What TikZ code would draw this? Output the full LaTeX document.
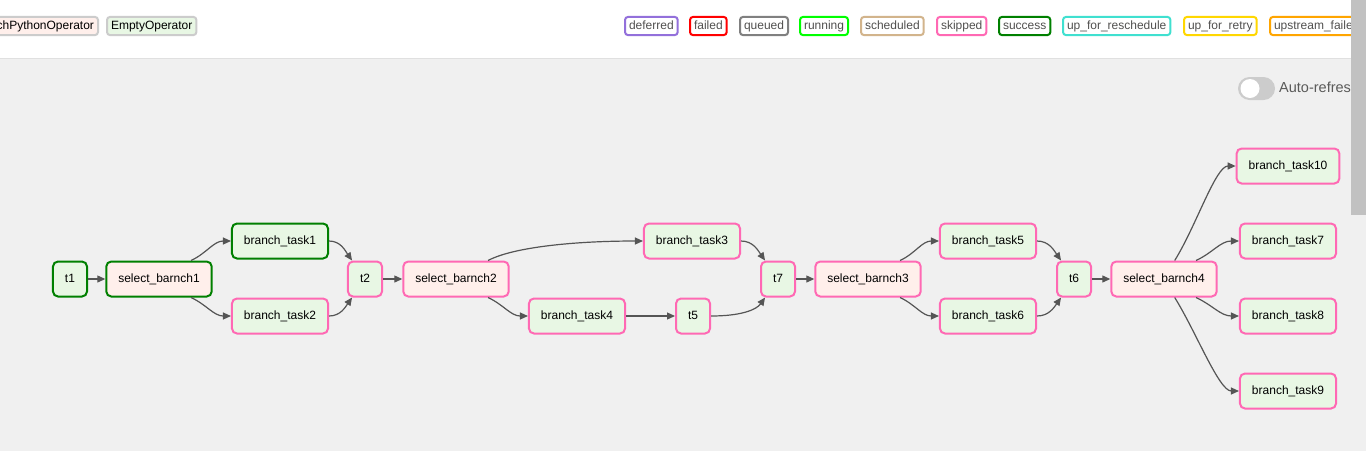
\documentclass[tikz,border=0pt]{standalone}
\usepackage{fontspec}
\setmainfont{Liberation Sans}
\usetikzlibrary{
  positioning,
  arrows.meta
}
\definecolor{canvas}{HTML}{F0F0F0}
\definecolor{emptyop}{HTML}{E8F7E4}
\definecolor{branchop}{HTML}{FFEFEB}
\definecolor{edgegray}{HTML}{555555}
\definecolor{labeltext}{HTML}{51504F}
\definecolor{opborder}{HTML}{CCCCCC}
\definecolor{thumb}{HTML}{C1C1C1}
\colorlet{donecol}{green!50!black}
\definecolor{skipcol}{HTML}{FF69B4}
\tikzset{
  every task/.style={rectangle,rounded corners=5pt,line width=2pt,
    inner xsep=12pt,minimum height=35pt,text height=9pt,text depth=2.5pt,
    font=\fontsize{12}{14}\selectfont,text=black},
  empty task/.style={every task,fill=emptyop},
  branch task/.style={every task,fill=branchop},
  done/.style={draw=donecol},
  skipped/.style={draw=skipcol},
  flow/.style={draw=edgegray,line width=1.2pt,-{Triangle[length=8pt,width=7pt]}},
  state box/.style={rectangle,rounded corners=3pt,line width=2pt,fill=white,
    inner xsep=4pt,minimum height=17pt,text height=9pt,text depth=2.5pt,
    font=\fontsize{12}{14}\selectfont,text=labeltext},
}

\begin{document}
\begin{tikzpicture}[x=1pt,y=-1pt]
\useasboundingbox (0,0) rectangle (1366,451);
\clip (0,0) rectangle (1366,451);
\fill[white] (0,0) rectangle (1366,58);
\fill[canvas] (0,58) rectangle (1366,451);
\draw[opborder!60,line width=0.8pt] (0,58) -- (1366,58);

% operator legend
\node[state box,draw=opborder,fill=emptyop,text=black,anchor=west] (op2) at (106,26) {EmptyOperator};
\node[state box,draw=opborder,fill=branchop,text=black,left=7pt of op2] (op1) {BranchPythonOperator};

% state legend
\foreach \lbl/\col/\x [count=\i] in {
  deferred/{rgb,255:red,147;green,112;blue,219}/624,
  failed/red/689,
  queued/gray/739,
  running/{rgb,255:red,0;green,255;blue,0}/799,
  scheduled/{rgb,255:red,210;green,180;blue,140}/860,
  skipped/skipcol/936,
  success/donecol/998,
  up\_for\_reschedule/{rgb,255:red,64;green,224;blue,208}/1062,
  up\_for\_retry/{rgb,255:red,255;green,215;blue,0}/1183,
  upstream\_failed/{rgb,255:red,255;green,165;blue,0}/1269}
{
  \node[state box,draw=\col,anchor=west] (st\i) at (\x,26) {\lbl};
}

% auto refresh
\fill[opborder,rounded corners=11.5pt] (1238,77) rectangle (1275,100);
\fill[white] (1250,88.5) circle[radius=9.5];
\node[anchor=west,inner sep=0pt,text=labeltext!80!gray,font=\fontsize{14.5}{17}\selectfont] (refresh) at (1279,87) {Auto-refresh};

% tasks
\node[empty task,done] (t1) at (70,279) {t1};
\node[branch task,done] (sb1) at (159,279) {select\_barnch1};
\node[empty task,done] (bt1) at (280,241) {branch\_task1};
\node[empty task,skipped] (bt2) at (280,316) {branch\_task2};
\node[empty task,skipped] (t2) at (365,279) {t2};
\node[branch task,skipped] (sb2) at (456,279) {select\_barnch2};
\node[empty task,skipped] (bt3) at (692,241) {branch\_task3};
\node[empty task,skipped] (bt4) at (577,316) {branch\_task4};
\node[empty task,skipped] (t5) at (693,316) {t5};
\node[empty task,skipped] (t7) at (778,279) {t7};
\node[branch task,skipped] (sb3) at (868,279) {select\_barnch3};
\node[empty task,skipped] (bt5) at (988,241) {branch\_task5};
\node[empty task,skipped] (bt6) at (988,316) {branch\_task6};
\node[empty task,skipped] (t6) at (1074,279) {t6};
\node[branch task,skipped] (sb4) at (1164,279) {select\_barnch4};
\node[empty task,skipped] (bt10) at (1288,166) {branch\_task10};
\node[empty task,skipped] (bt7) at (1288,241) {branch\_task7};
\node[empty task,skipped] (bt8) at (1288,316) {branch\_task8};
\node[empty task,skipped] (bt9) at (1288,391) {branch\_task9};

% edges
\draw[flow] (t1) -- (sb1);
\draw[flow] (sb1.30) to[out=25,in=180] (bt1);
\draw[flow] (sb1.-30) to[out=-25,in=180] (bt2);
\draw[flow] (bt1) to[out=0,in=125] (t2);
\draw[flow] (bt2) to[out=0,in=-125] (t2);
\draw[flow] (t2) -- (sb2);
\draw[flow] (sb2.30) to[out=28,in=180,out distance=28pt,in distance=70pt] (bt3);
\draw[flow] (sb2.-30) to[out=-25,in=180] (bt4);
\draw[flow] (bt4) -- (t5);
\draw[flow] (bt3) to[out=0,in=125] (t7);
\draw[flow] (t5) to[out=0,in=-125,out distance=30pt,in distance=15pt] (t7);
\draw[flow] (t7) -- (sb3);
\draw[flow] (sb3.30) to[out=25,in=180] (bt5);
\draw[flow] (sb3.-30) to[out=-25,in=180] (bt6);
\draw[flow] (bt5) to[out=0,in=125] (t6);
\draw[flow] (bt6) to[out=0,in=-125] (t6);
\draw[flow] (t6) -- (sb4);
\draw[flow] (sb4.60) to[out=58,in=180,out distance=40pt,in distance=20pt] (bt10);
\draw[flow] (sb4.30) to[out=25,in=180] (bt7);
\draw[flow] (sb4.-30) to[out=-25,in=180] (bt8);
\draw[flow] (sb4.-60) to[out=-58,in=180,out distance=40pt,in distance=20pt] (bt9);

% scrollbar
\fill[thumb] (1351,0) rectangle (1366,215);
\end{tikzpicture}
\end{document}
